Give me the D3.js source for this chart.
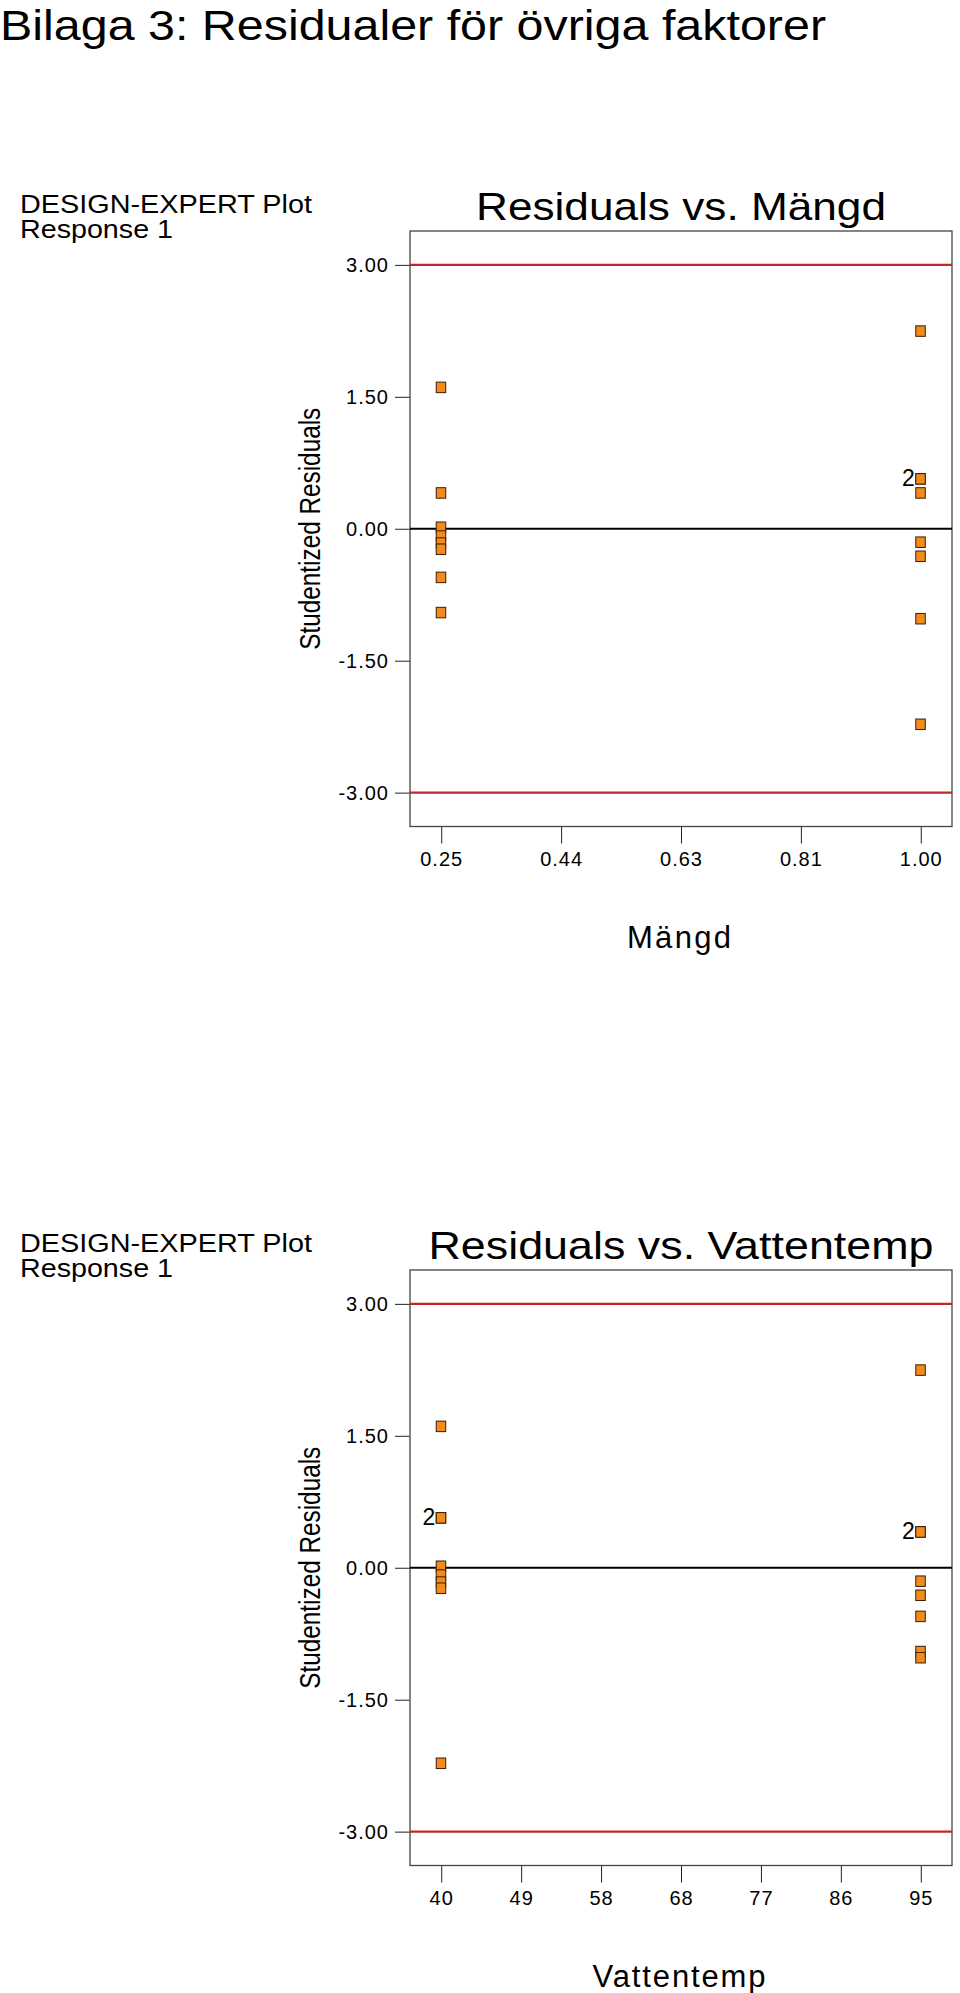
<!DOCTYPE html>
<html><head><meta charset="utf-8">
<script src="https://cdn.jsdelivr.net/npm/d3@7"></script>
<style>
body{margin:0;background:#fff}
text{font-family:"Liberation Sans",Arial,Helvetica,sans-serif;fill:#000}
</style>
</head><body><svg id="c" width="960" height="1993"></svg>
<script>
// ---- data (one entry per run) ----
const mangd      = [0.25,0.25,0.25,0.25,0.25,0.25,0.25,0.25, 1.00,1.00,1.00,1.00,1.00,1.00,1.00,1.00];
const vattentemp = [40,95,40,40,40,40,95,95, 95,40,40,95,95,95,95,40];
const residuals  = [1.61,0.41,0.02,-0.08,-0.16,-0.23,-0.55,-0.95, 2.25,0.57,0.57,0.41,-0.15,-0.31,-1.02,-2.22];

const mangdTicks        = [0.25, 0.4375, 0.625, 0.8125, 1.00];
const mangdTickLabels   = ["0.25","0.44","0.63","0.81","1.00"];
const vattenTicks       = [40, 49.1667, 58.3333, 67.5, 76.6667, 85.8333, 95];
const vattenTickLabels  = ["40","49","58","68","77","86","95"];
const yTicks            = [-3, -1.5, 0, 1.5, 3];
const yTickLabels       = ["-3.00","-1.50","0.00","1.50","3.00"];
const limitLines        = [3, -3];
const yLimits           = [-3.385, 3.385];

const pageTitle = "Bilaga 3: Residualer för övriga faktorer";
const plotLine1 = "DESIGN-EXPERT Plot";
const plotLine2 = "Response 1";
const yTitle    = "Studentized Residuals";

const svg = d3.select("#c");

svg.append("text").attr("x",0).attr("y",40)
  .style("font-size","42px").attr("textLength",826).attr("lengthAdjust","spacingAndGlyphs")
  .text(pageTitle);

const L = 410, R = 952, H = 595.5;

function panel(T, xs, ticks, tickLabels, title, xTitle, titleLen, xTitleLen){
  const g = svg.append("g");
  const ext = d3.extent(xs), pad = (ext[1]-ext[0])*0.0651;
  const x = d3.scaleLinear().domain([ext[0]-pad, ext[1]+pad]).range([L, R]);
  const y = d3.scaleLinear().domain(yLimits).range([T+H, T]);

  g.append("text").attr("x",20).attr("y",T-18.5).style("font-size","25px")
    .attr("textLength",292).attr("lengthAdjust","spacingAndGlyphs").text(plotLine1);
  g.append("text").attr("x",20).attr("y",T+7).style("font-size","25px")
    .attr("textLength",153).attr("lengthAdjust","spacingAndGlyphs").text(plotLine2);
  g.append("text").attr("x",(L+R)/2).attr("y",T-11).style("font-size","39px")
    .attr("text-anchor","middle").attr("textLength",titleLen).attr("lengthAdjust","spacingAndGlyphs").text(title);

  // y axis
  const ya = g.append("g").attr("transform",`translate(${L},0)`)
    .call(d3.axisLeft(y).tickValues(yTicks).tickSize(15).tickPadding(6)
      .tickFormat((d,i)=>yTickLabels[i]));
  ya.select(".domain").remove();
  ya.selectAll(".tick line").attr("stroke","#222");
  ya.selectAll(".tick text").style("font-size","20px")
    .style("letter-spacing","1px").style("fill","#000");

  // x axis
  const xa = g.append("g").attr("transform",`translate(0,${T+H})`)
    .call(d3.axisBottom(x).tickValues(ticks).tickSize(17).tickPadding(8)
      .tickFormat((d,i)=>tickLabels[i]));
  xa.select(".domain").remove();
  xa.selectAll(".tick line").attr("stroke","#222");
  xa.selectAll(".tick text").style("font-size","20px")
    .style("letter-spacing","1px").style("fill","#000");

  // frame
  g.append("rect").attr("x",L).attr("y",T).attr("width",R-L).attr("height",H)
    .attr("fill","none").attr("stroke","#444").attr("stroke-width",1.3);

  // reference lines
  g.selectAll("line.lim").data(limitLines).join("line").attr("class","lim")
    .attr("x1",L).attr("x2",R).attr("y1",d=>y(d)).attr("y2",d=>y(d))
    .attr("stroke","#c4242c").attr("stroke-width",2.2);
  g.append("line").attr("x1",L).attr("x2",R).attr("y1",y(0)).attr("y2",y(0))
    .attr("stroke","#000").attr("stroke-width",2);

  // points
  const pts = xs.map((v,i)=>({x:v, r:residuals[i]}));
  g.selectAll("rect.pt").data(pts).join("rect").attr("class","pt")
    .attr("x",d=>x(d.x)-5).attr("y",d=>y(d.r)-5).attr("width",9.5).attr("height",10.5)
    .attr("fill","#f38a1c").attr("stroke","#3a1e05").attr("stroke-width",1);

  // multiplicity labels
  const counts = d3.rollups(pts, v=>v.length, d=>d.x+"|"+d.r).filter(c=>c[1]>1);
  g.selectAll("text.cnt").data(counts).join("text").attr("class","cnt")
    .attr("x",d=>x(+d[0].split("|")[0])-6).attr("y",d=>y(+d[0].split("|")[1])+7.5)
    .attr("text-anchor","end").style("font-size","23px").text(d=>d[1]);

  // y title
  g.append("text").attr("transform",`translate(320,${y(0)}) rotate(-90)`)
    .attr("text-anchor","middle").style("font-size","29px")
    .attr("textLength",242).attr("lengthAdjust","spacingAndGlyphs").text(yTitle);

  // x title
  g.append("text").attr("x",679).attr("y",T+717.3).attr("text-anchor","middle")
    .style("font-size","31px").attr("textLength",xTitleLen).attr("lengthAdjust","spacing").text(xTitle);
}

panel(231, mangd, mangdTicks, mangdTickLabels, "Residuals vs. Mängd", "Mängd", 410, 104);
panel(1270, vattentemp, vattenTicks, vattenTickLabels, "Residuals vs. Vattentemp", "Vattentemp", 505, 173);
</script>
</body></html>
